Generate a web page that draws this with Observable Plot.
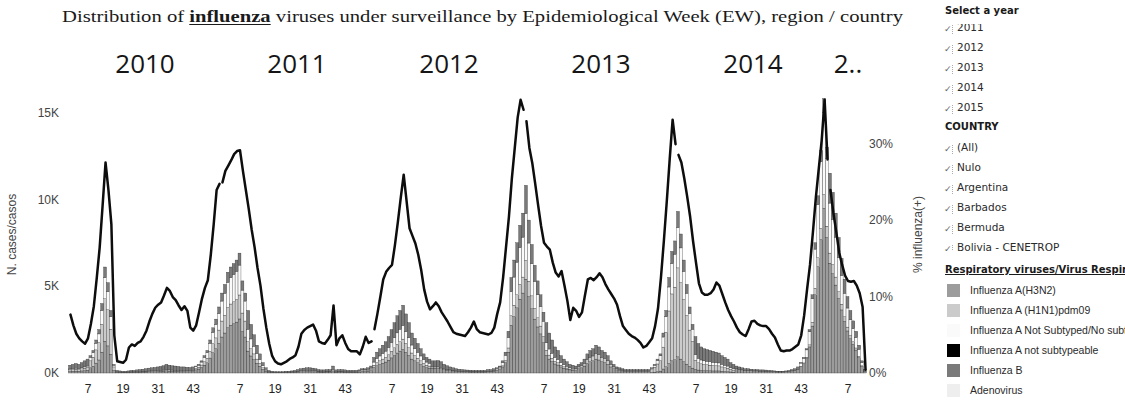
<!DOCTYPE html>
<html>
<head>
<meta charset="utf-8">
<script src="https://cdn.jsdelivr.net/npm/d3@7"></script>
<script src="https://cdn.jsdelivr.net/npm/@observablehq/plot@0.6"></script>
<style>
  html, body { margin: 0; padding: 0; background: #fff; }
  body { width: 1125px; height: 406px; overflow: hidden; position: relative; }
  #chart { position: absolute; left: 0; top: 0; }
  #title {
    position: absolute; left: 62px; top: 7px; white-space: nowrap; transform-origin: 0 0;
    font-family: "Liberation Serif", "DejaVu Serif", serif; font-size: 17px; color: #1a1a1a;
  }
  #title b { text-decoration: underline; text-underline-offset: 2px; }
  #panel { position: absolute; left: 943px; top: 0; width: 182px; height: 406px; overflow: hidden; }
  .hdr {
    position: absolute; left: 2px; height: 20px; line-height: 20px; white-space: nowrap;
    font-family: "DejaVu Sans", sans-serif; font-weight: bold; font-size: 10px; color: #1a1a1a;
  }
  .hdr.u { text-decoration: underline; }
  .clip { position: absolute; left: 0; width: 182px; overflow: hidden; }
  .row {
    height: 20px; line-height: 20px; white-space: nowrap;
    font-family: "DejaVu Sans", sans-serif; font-size: 10.5px; color: #2a2a2a;
  }
  .chk {
    display: inline-block; width: 8px; height: 9px; margin: 0 4px 0 1px; vertical-align: -1px;
    border-right: 1px dotted #aaa; color: #666; font-size: 9px; line-height: 9px;
  }
  .lrow {
    height: 20px; line-height: 20px; white-space: nowrap; display: flex; align-items: center;
    font-family: "Liberation Sans", Arial, sans-serif; font-size: 10.5px; color: #2a2a2a;
  }
  .sw { width: 13px; height: 13px; margin: 0 10px 0 4px; flex: none; }
</style>
</head>
<body>
<div id="chart"></div>
<div id="title">Distribution of <b>influenza</b> viruses under surveillance by Epidemiological Week (EW), region / country</div>
<div id="panel"></div>
<script>
// Epidemiological years shown and the number of weeks reported in each
const years = [2010, 2011, 2012, 2013, 2014, 2015];
const weeksShown = [52, 52, 52, 52, 52, 13];
const tickWeeks = [7, 19, 31, 43];
const caseTicks = [0, 5000, 10000, 15000];
const pctTicks = [0, 10, 20, 30];
const listedYears = [2011, 2012, 2013, 2014, 2015];
const countries = ["(All)", "Nulo", "Argentina", "Barbados", "Bermuda", "Bolivia - CENETROP"];

// % of samples positive for influenza, one value per week
const pctPositive = [
  // 2010
  7.7, 6.3, 5.2, 4.6, 4.2, 3.9, 4.6, 6.5, 8.8, 12.5, 16.5, 22.0, 27.6, 24.0, 19.5, 5.0, 1.6, 1.5, 1.4, 1.8,
  3.4, 3.8, 3.6, 4.0, 4.2, 4.8, 5.6, 6.8, 7.8, 8.6, 9.0, 9.3, 10.2, 11.2, 10.8, 10.0, 9.6, 8.9, 8.3, 8.8,
  8.2, 6.0, 5.6, 6.3, 8.0, 9.8, 11.2, 12.2, 15.5, 19.5, 24.0, 24.8,
  // 2011
  25.0, 26.5, 27.2, 27.9, 28.7, 29.1, 29.2, 26.5, 24.0, 21.5, 18.8, 16.5, 13.8, 11.5, 8.5, 6.0, 3.9, 2.3, 1.6, 1.3,
  1.2, 1.4, 1.6, 1.9, 2.1, 2.4, 3.5, 5.2, 5.7, 6.0, 6.2, 6.4, 5.6, 4.2, 4.0, 3.9, 4.4, 5.0, 8.9, 3.7,
  4.6, 5.0, 4.0, 3.2, 2.9, 2.9, 2.9, 2.5, 3.5, 4.8, 4.0, 4.2,
  // 2012
  5.8, 7.8, 10.0, 12.3, 13.3, 13.8, 14.2, 16.8, 19.8, 23.0, 26.0, 22.5, 19.0, 18.0, 17.0, 15.5, 13.5, 11.0, 9.4, 8.4,
  8.8, 9.3, 8.8, 8.0, 7.4, 6.8, 6.1, 5.4, 5.2, 5.1, 5.0, 4.9, 5.4, 6.0, 6.8, 5.8, 5.4, 5.3, 5.2, 5.1,
  5.3, 6.0, 7.8, 9.3, 12.5, 16.5, 20.5, 25.5, 29.5, 33.5, 35.8, 34.5,
  // 2013
  33.0, 29.5, 27.5, 24.8, 22.0, 19.3, 17.1, 16.6, 16.2, 14.5, 13.2, 12.7, 13.4, 11.5, 9.5, 7.0, 8.6, 8.2, 7.4, 8.0,
  10.2, 12.3, 12.5, 12.2, 12.6, 13.1, 12.6, 11.7, 11.0, 10.4, 9.8, 9.0, 7.5, 6.2, 5.7, 5.2, 4.9, 4.7, 4.4, 4.0,
  3.4, 3.6, 4.1, 4.6, 6.2, 8.5, 12.5, 17.3, 22.5, 28.0, 33.2, 30.0,
  // 2014
  28.6, 27.6, 25.5, 23.1, 20.5, 17.3, 14.5, 11.8, 10.6, 10.3, 10.3, 10.5, 11.0, 11.9, 11.5, 10.4, 9.3, 8.3, 7.5, 6.8,
  6.0, 5.4, 5.1, 4.9, 5.8, 6.8, 6.9, 6.5, 6.3, 6.2, 6.2, 5.8, 5.2, 4.7, 3.8, 3.0, 2.9, 3.0, 3.0, 3.2,
  3.5, 3.8, 5.0, 7.6, 11.0, 14.2, 18.5, 23.0, 26.8, 30.5, 35.8, 28.0,
  // 2015
  24.0, 21.0, 18.5, 15.8, 14.2, 12.8, 12.1, 12.0, 12.1, 11.5, 10.5, 8.7, 0.5
];

// Weekly cases by virus
const h3n2 = [
  // 2010
  90, 100, 110, 100, 120, 140, 160, 300, 390, 570, 750, 1200, 1830, 1560, 1080, 150, 40, 30, 30, 30,
  30, 40, 40, 50, 50, 60, 60, 70, 80, 80, 90, 100, 110, 130, 110, 110, 100, 100, 90, 90,
  80, 80, 90, 180, 230, 320, 450, 590, 860, 1170, 1400, 1710,
  // 2011
  2070, 2300, 2610, 2750, 2840, 2930, 3110, 2390, 2070, 1260, 980, 770, 560, 390, 210, 100, 50, 30, 20, 20,
  20, 20, 30, 30, 40, 50, 60, 80, 80, 90, 90, 80, 80, 60, 50, 50, 60, 60, 120, 50,
  60, 60, 50, 50, 50, 50, 50, 60, 90, 90, 110, 140,
  // 2012
  320, 420, 490, 560, 630, 740, 870, 1010, 1150, 1260, 1360, 1190, 1010, 800, 700, 590, 490, 380, 310, 280,
  280, 280, 290, 260, 200, 170, 140, 120, 100, 90, 80, 70, 70, 60, 60, 60, 60, 60, 60, 80,
  80, 100, 150, 200, 350, 600, 1200, 2750, 3250, 3750, 4250, 4600,
  // 2013
  5400, 4400, 3700, 3100, 2650, 2250, 1750, 1020, 800, 660, 520, 460, 350, 280, 230, 180, 160, 140, 250, 300,
  400, 550, 650, 700, 800, 750, 650, 600, 500, 350, 250, 180, 150, 120, 100, 100, 100, 100, 100, 100,
  100, 100, 100, 30, 50, 80, 110, 230, 360, 550, 700, 760,
  // 2014
  930, 800, 650, 510, 380, 280, 210, 170, 150, 140, 140, 130, 120, 120, 120, 100, 90, 80, 60, 50,
  240, 210, 180, 150, 150, 130, 120, 120, 110, 110, 100, 90, 80, 70, 60, 60, 60, 70, 90, 120,
  150, 210, 360, 540, 840, 1500, 2700, 4500, 6120, 7680, 9480, 7800,
  // 2015
  6320, 5720, 5060, 4290, 3630, 2970, 2420, 1980, 1650, 1320, 880, 380, 110
];

const h1n1pdm09 = [
  // 2010
  90, 100, 110, 100, 120, 140, 160, 400, 520, 760, 1000, 1600, 2440, 2080, 1440, 200, 20, 20, 10, 10,
  20, 20, 20, 30, 30, 30, 40, 40, 40, 50, 50, 60, 60, 70, 70, 60, 60, 60, 50, 50,
  50, 50, 50, 80, 100, 140, 200, 260, 380, 520, 620, 760,
  // 2011
  920, 1020, 1160, 1220, 1260, 1300, 1380, 1060, 920, 540, 420, 330, 240, 160, 90, 50, 30, 20, 20, 10,
  10, 20, 20, 20, 20, 30, 40, 50, 60, 60, 60, 60, 50, 40, 40, 40, 40, 40, 80, 40,
  40, 40, 40, 30, 30, 20, 20, 30, 40, 40, 40, 60,
  // 2012
  130, 180, 210, 240, 270, 310, 380, 440, 500, 540, 590, 510, 440, 350, 300, 260, 210, 170, 140, 120,
  70, 70, 70, 70, 50, 40, 40, 30, 30, 20, 20, 20, 20, 20, 20, 20, 20, 20, 20, 20,
  20, 30, 30, 40, 70, 120, 240, 550, 650, 750, 850, 920,
  // 2013
  1080, 880, 740, 620, 530, 450, 350, 290, 230, 190, 150, 130, 100, 80, 60, 50, 40, 40, 100, 120,
  160, 220, 260, 280, 320, 300, 260, 240, 200, 140, 100, 70, 60, 50, 40, 40, 40, 40, 40, 40,
  40, 40, 40, 160, 280, 440, 600, 1260, 1980, 3020, 3850, 4180,
  // 2014
  5120, 4400, 3580, 2800, 2090, 1540, 520, 420, 380, 350, 340, 320, 310, 300, 290, 250, 220, 200, 150, 120,
  0, 0, 0, 0, 0, 0, 0, 0, 0, 0, 0, 0, 0, 0, 0, 0, 0, 0, 0, 0,
  0, 0, 30, 40, 70, 120, 220, 380, 510, 640, 790, 650,
  // 2015
  580, 520, 460, 390, 330, 270, 220, 180, 150, 120, 80, 40, 10
];

const notSubtyped = [
  // 2010
  50, 50, 60, 50, 60, 70, 80, 200, 260, 380, 500, 800, 1220, 1040, 720, 100, 0, 0, 0, 0,
  0, 0, 0, 0, 0, 0, 0, 0, 0, 0, 0, 0, 0, 0, 0, 0, 0, 0, 0, 0,
  0, 0, 0, 100, 120, 170, 250, 320, 470, 650, 770, 950,
  // 2011
  1150, 1270, 1450, 1520, 1570, 1620, 1720, 1320, 1150, 720, 560, 440, 320, 220, 120, 60, 0, 0, 0, 0,
  0, 0, 0, 0, 0, 0, 0, 0, 0, 0, 0, 0, 0, 0, 0, 0, 0, 0, 0, 0,
  0, 0, 0, 0, 0, 30, 30, 40, 50, 50, 60, 80,
  // 2012
  180, 240, 280, 320, 360, 420, 500, 580, 660, 720, 780, 680, 580, 460, 400, 340, 280, 220, 180, 160,
  0, 0, 0, 0, 0, 0, 0, 0, 0, 0, 0, 0, 0, 0, 0, 0, 0, 0, 0, 0,
  0, 0, 80, 100, 180, 300, 600, 1380, 1620, 1880, 2120, 2300,
  // 2013
  2700, 2200, 1850, 1550, 1320, 1120, 880, 430, 350, 290, 230, 190, 150, 120, 100, 70, 70, 60, 0, 0,
  0, 0, 0, 0, 0, 0, 0, 0, 0, 0, 0, 0, 0, 0, 0, 0, 0, 0, 0, 0,
  0, 0, 0, 80, 120, 200, 280, 580, 900, 1380, 1750, 1900,
  // 2014
  2320, 2000, 1620, 1280, 950, 700, 320, 260, 220, 210, 200, 200, 190, 180, 170, 150, 140, 120, 90, 80,
  0, 0, 0, 0, 0, 0, 0, 0, 0, 0, 0, 0, 0, 0, 0, 0, 0, 0, 0, 0,
  0, 0, 180, 270, 420, 750, 1350, 2250, 3060, 3840, 4740, 3900,
  // 2015
  2880, 2600, 2300, 1950, 1650, 1350, 1100, 900, 750, 600, 400, 180, 50
];

const fluB = [
  // 2010
  220, 250, 270, 250, 300, 350, 400, 100, 130, 190, 250, 400, 610, 520, 360, 50, 90, 70, 60, 60,
  70, 90, 90, 100, 120, 130, 150, 170, 180, 190, 210, 220, 250, 300, 270, 250, 240, 220, 210, 210,
  200, 190, 210, 40, 50, 70, 100, 130, 190, 260, 310, 380,
  // 2011
  460, 510, 580, 610, 630, 650, 690, 530, 460, 1080, 840, 660, 480, 330, 180, 90, 70, 50, 40, 40,
  40, 40, 50, 50, 60, 70, 100, 120, 140, 150, 150, 140, 120, 100, 90, 90, 100, 100, 200, 90,
  100, 100, 90, 70, 70, 50, 50, 50, 70, 70, 90, 120,
  // 2012
  270, 360, 420, 480, 540, 630, 750, 870, 990, 1080, 1170, 1020, 870, 690, 600, 510, 420, 330, 270, 240,
  350, 350, 360, 320, 250, 210, 170, 150, 120, 110, 100, 90, 80, 80, 70, 70, 70, 70, 70, 100,
  100, 120, 40, 60, 100, 180, 360, 820, 980, 1120, 1280, 1380,
  // 2013
  1620, 1320, 1110, 930, 800, 680, 520, 1160, 920, 760, 600, 520, 400, 320, 260, 200, 180, 160, 150, 180,
  240, 330, 390, 420, 480, 450, 390, 360, 300, 210, 150, 100, 90, 80, 60, 60, 60, 60, 60, 60,
  60, 60, 60, 30, 50, 80, 110, 230, 360, 550, 700, 760,
  // 2014
  930, 800, 650, 510, 380, 280, 1050, 850, 750, 700, 670, 650, 630, 600, 570, 500, 450, 400, 300, 250,
  160, 140, 120, 100, 100, 90, 80, 80, 70, 70, 70, 60, 60, 50, 40, 40, 40, 50, 60, 80,
  100, 140, 30, 50, 70, 130, 230, 370, 510, 640, 790, 650,
  // 2015
  1720, 1560, 1380, 1170, 990, 810, 660, 540, 450, 360, 240, 100, 30
];

// Virus categories, in stacking / legend order
const seriesNames = [
  "Influenza A(H3N2)",
  "Influenza A (H1N1)pdm09",
  "Influenza A Not Subtyped/No subtipificado",
  "Influenza A not subtypeable",
  "Influenza B",
  "Adenovirus"
];
const seriesFills = ["#9c9c9c", "#cbcbcb", "#fafafa", "#000000", "#7a7a7a", "#eeeeee"];
const seriesValues = [h3n2, h1n1pdm09, notSubtyped, null, fluB, null];

// One entry per reported week, with a running index across the years
const weeks = [];
years.forEach((year, i) => {
  for (let week = 1; week <= weeksShown[i]; week++) weeks.push({year, week, t: weeks.length});
});
const totalWeeks = weeks.length;

const bars = [];
seriesNames.forEach((name, s) => {
  const values = seriesValues[s];
  if (!values) return;
  weeks.forEach((w, i) => bars.push({...w, series: name, cases: values[i]}));
});

// The % positive line shares the vertical scale: one percentage point = pctUnit cases
const pctUnit = 440;
const pctLine = weeks.map((w, i) => ({...w, pct: pctPositive[i]}));

const tickPos = weeks.filter((w) => tickWeeks.includes(w.week)).map((w) => w.t + 0.5);
const weekAt = new Map(weeks.map((w) => [w.t + 0.5, w.week]));

// Year headers centred over each year's block of weeks
const yearHeads = years.map((year, i) => {
  const start = weeks.find((w) => w.year === year).t;
  const label = weeksShown[i] < 52 ? String(year)[0] + ".." : String(year);
  return {label, mid: start + weeksShown[i] / 2};
});

const chart = Plot.plot({
  width: 930,
  height: 406,
  marginLeft: 68.5,
  marginRight: 63.5,
  marginTop: 95,
  marginBottom: 33,
  style: {fontFamily: "'Liberation Sans', Arial, sans-serif", fontSize: "12px", color: "#333", background: "transparent", overflow: "visible"},
  x: {domain: [0, totalWeeks], axis: null},
  y: {domain: [0, 16000], axis: null},
  color: {domain: seriesNames, range: seriesFills},
  marks: [
    Plot.rectY(bars, {
      x1: "t", x2: (d) => d.t + 1, y: "cases", fill: "series", order: seriesNames,
      stroke: "#1e1e1e", strokeWidth: 0.35, strokeOpacity: 0.85
    }),
    Plot.line(pctLine, {
      x: (d) => d.t + 0.5, y: (d) => d.pct * pctUnit, z: "year",
      stroke: "#0d0d0d", strokeWidth: 2.5, strokeLinejoin: "round", strokeLinecap: "round"
    }),
    Plot.axisX({ticks: tickPos, tickFormat: (p) => weekAt.get(p), tickSize: 0, tickPadding: 11, fontSize: 12, fill: "#222"}),
    Plot.axisY({
      ticks: caseTicks, tickFormat: (d) => d / 1000 + "K", tickSize: 0, tickPadding: 10, fill: "#444",
      label: "N. cases/casos", labelAnchor: "center", labelOffset: 62, labelArrow: false
    }),
    Plot.axisY({
      anchor: "right", ticks: pctTicks.map((p) => p * pctUnit), tickFormat: (d) => Math.round(d / pctUnit) + "%",
      tickSize: 0, tickPadding: 2, fill: "#444",
      label: "% influenza(+)", labelAnchor: "center", labelOffset: 55, labelArrow: false
    }),
    Plot.text(yearHeads, {
      x: "mid", text: "label", frameAnchor: "top", dy: -41,
      fontFamily: "'Open Sans', sans-serif", fontSize: 26, fill: "#151515"
    })
  ]
});
document.getElementById("chart").appendChild(chart);

// Widen the title to its set width
const title = document.getElementById("title");
const titleWidth = 841;
const natural = title.getBoundingClientRect().width;
title.style.transform = "scaleX(" + (titleWidth / natural).toFixed(4) + ")";

// Filter panel and colour legend
const panel = document.getElementById("panel");
function header(text, top, underline) {
  const d = document.createElement("div");
  d.className = "hdr" + (underline ? " u" : "");
  d.style.top = top + "px";
  d.textContent = text;
  panel.appendChild(d);
}
function clipBox(top, height, shift) {
  const c = document.createElement("div");
  c.className = "clip";
  c.style.top = top + "px";
  c.style.height = height + "px";
  const inner = document.createElement("div");
  inner.style.marginTop = shift + "px";
  c.appendChild(inner);
  panel.appendChild(c);
  return inner;
}
function checkRow(parent, text) {
  const r = document.createElement("div");
  r.className = "row";
  r.innerHTML = '<span class="chk">✓</span>';
  r.appendChild(document.createTextNode(text));
  parent.appendChild(r);
}

header("Select a year", 1);
// the year list is scrolled so that its first entry is half hidden
const yearList = clipBox(24, 93, -7);
listedYears.forEach((y) => checkRow(yearList, String(y)));

header("COUNTRY", 117);
const countryList = clipBox(137, 114, 0);
countries.forEach((c) => checkRow(countryList, c));

header("Respiratory viruses/Virus Respiratorios", 260, true);
const legend = clipBox(280, 126, 0);
seriesNames.forEach((name, i) => {
  const r = document.createElement("div");
  r.className = "lrow";
  const sw = document.createElement("span");
  sw.className = "sw";
  sw.style.background = seriesFills[i];
  r.appendChild(sw);
  r.appendChild(document.createTextNode(name));
  legend.appendChild(r);
});
</script>
</body>
</html>
